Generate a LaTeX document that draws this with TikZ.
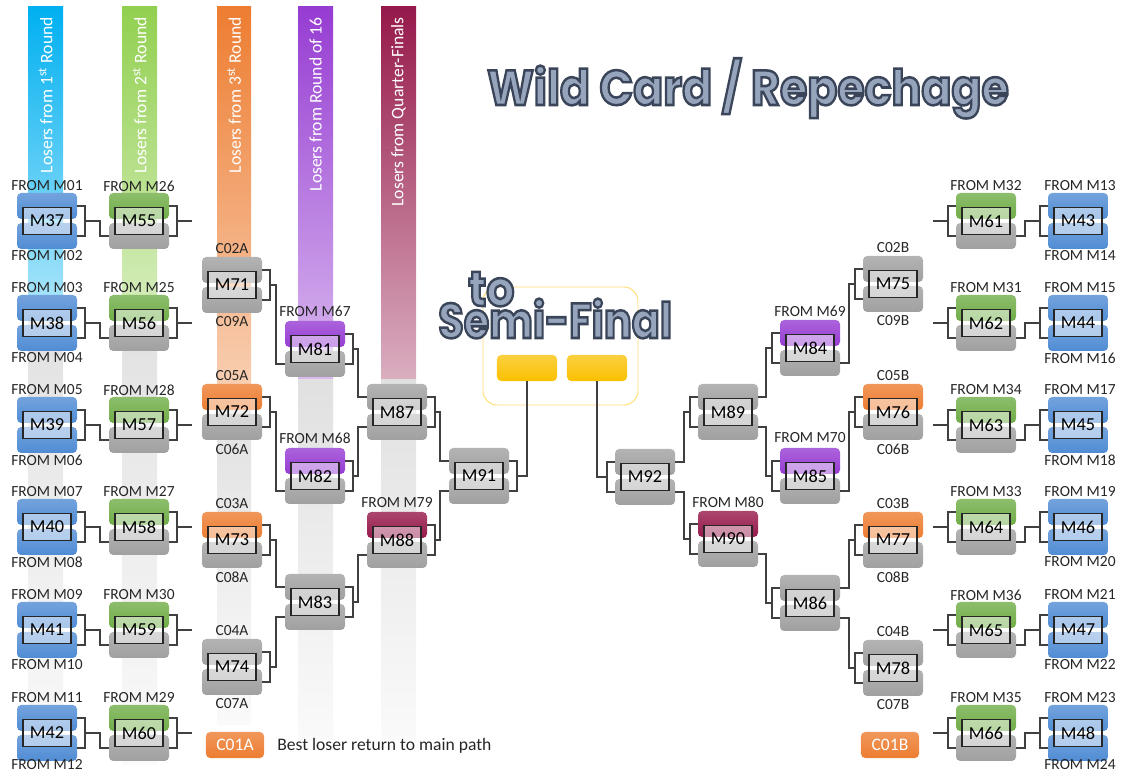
\documentclass[tikz,border=0pt]{standalone}
\usepackage{fontspec}
\setmainfont{Carlito}
\newfontfamily\titlefont{Poppins}

\definecolor{cblue}{RGB}{0,176,240}
\definecolor{cgreen}{RGB}{146,208,80}
\definecolor{corange}{RGB}{237,125,49}
\definecolor{cpurple}{RGB}{150,60,210}
\definecolor{cwine}{RGB}{150,25,75}
\definecolor{mblue}{RGB}{80,140,212}
\definecolor{mgreen}{RGB}{112,173,71}
\definecolor{mgray}{RGB}{160,160,160}
\definecolor{gold}{RGB}{250,192,0}
\definecolor{goldline}{RGB}{255,222,120}
\definecolor{tfill}{RGB}{150,165,188}

\tikzset{
	wire/.style={draw=black!75, line width=0.8pt},
	blob/.style={rounded corners=3pt, top color=#1!80!white, bottom color=#1},
	matchbox/.style={draw=black!85, line width=0.8pt, fill=white, fill opacity=0.5, text opacity=1, minimum width=1.2cm, minimum height=0.675cm, inner sep=0pt, font=\fontsize{13}{13}\selectfont},
	lbl/.style={inner sep=0pt, text=black!85, font=\fontsize{11}{11}\selectfont},
	colhead/.style={rotate=90, anchor=east, inner sep=0pt, text=white, font=\fontsize{12.5}{12.5}\selectfont},
	legbox/.style={rounded corners=3pt, top color=corange!80!white, bottom color=corange, text=white, minimum width=1.45cm, minimum height=0.65cm, inner sep=0pt, font=\fontsize{12.5}{12.5}\selectfont},
	goldbox/.style={rounded corners=3pt, top color=gold!75!white, bottom color=gold, minimum width=1.5cm, minimum height=0.65cm, inner sep=0pt},
	titletext/.style={inner sep=0pt, text=tfill, font=\titlefont\bfseries\fontsize{35}{35}\selectfont}
}

% outlined title lettering (fill + dark stroke)
\newcommand{\outl}[1]{\special{pdf:code 2 Tr 1.8 w 0.23 0.27 0.35 RG}#1\special{pdf:code 0 Tr}}

% match: name, x, y, top colour, bottom colour, side of bracket (1 right, -1 left)
\newcommand{\match}[6]{%
	\begin{scope}[shift={(#2,#3)}]
	\path[blob=#4] (-30,-28) rectangle (30,-2);
	\path[blob=#5] (-30,2) rectangle (30,28);
	\node[matchbox] (#1) at (0,0) {#1};
	\coordinate (#1-ot) at (#6*30,-15);
	\coordinate (#1-ob) at (#6*30,15);
	\coordinate (#1-it) at (#6*-30,-15);
	\coordinate (#1-ib) at (#6*-30,15);
	\coordinate (#1-out) at (#6*38,0);
	\coordinate (#1-end) at (#6*53,0);
	\draw[wire] (#1-ot) -| (#1-out) |- (#1-ob);
	\end{scope}}

\begin{document}
\begin{tikzpicture}[x=0.025cm, y=-0.025cm]
\useasboundingbox (0,0) rectangle (1121,773);

% bands
\shade[top color=cblue, bottom color=cblue!35!white] (28,7) rectangle (63,300);
\shade[top color=black!12, bottom color=black!2] (28,300) rectangle (63,765);
\shade[top color=cgreen, bottom color=cgreen!40!white] (122,7) rectangle (157,300);
\shade[top color=black!12, bottom color=black!2] (122,300) rectangle (157,765);
\shade[top color=corange, bottom color=corange!35!white] (217,7) rectangle (251,400);
\shade[top color=black!12, bottom color=black!2] (217,400) rectangle (251,725);
\shade[top color=cpurple, bottom color=cpurple!35!white] (298,7) rectangle (333,380);
\shade[top color=black!12, bottom color=black!2] (298,380) rectangle (333,740);
\shade[top color=cwine, bottom color=cwine!35!white] (381,7) rectangle (416,380);
\shade[top color=black!12, bottom color=black!2] (381,380) rectangle (416,740);

\node[colhead] (head1) at (45.5,17) {Losers from 1\textsuperscript{st} Round};
\node[colhead] (head2) at (139.5,17) {Losers from 2\textsuperscript{st} Round};
\node[colhead] (head3) at (234,17) {Losers from 3\textsuperscript{st} Round};
\node[colhead] (head4) at (315.5,17) {Losers from Round of 16};
\node[colhead] (head5) at (398.5,17) {Losers from Quarter-Finals};

% semi-final frame
\draw[goldline, line width=0.7pt, rounded corners=10pt] (483,287) rectangle (638,405);
\node[goldbox] (semiL) at (527,368) {};
\node[goldbox] (semiR) at (597,368) {};

% left half
\match{M37}{47}{221}{mblue}{mblue}{1}
\match{M38}{47}{323}{mblue}{mblue}{1}
\match{M39}{47}{425}{mblue}{mblue}{1}
\match{M40}{47}{527}{mblue}{mblue}{1}
\match{M41}{47}{630}{mblue}{mblue}{1}
\match{M42}{47}{733}{mblue}{mblue}{1}
\match{M55}{139}{221}{mgreen}{mgray}{1}
\match{M56}{139}{323}{mgreen}{mgray}{1}
\match{M57}{139}{425}{mgreen}{mgray}{1}
\match{M58}{139}{527}{mgreen}{mgray}{1}
\match{M59}{139}{630}{mgreen}{mgray}{1}
\match{M60}{139}{733}{mgreen}{mgray}{1}
\match{M71}{232}{285}{mgray}{mgray}{1}
\match{M72}{232}{412}{corange}{mgray}{1}
\match{M73}{232}{540}{corange}{mgray}{1}
\match{M74}{232}{667}{mgray}{mgray}{1}
\match{M81}{315}{349}{cpurple}{mgray}{1}
\match{M82}{315}{476}{cpurple}{mgray}{1}
\match{M83}{315}{602}{mgray}{mgray}{1}
\match{M87}{397}{412}{mgray}{mgray}{1}
\match{M88}{397}{540}{cwine}{mgray}{1}
\match{M91}{479}{476}{mgray}{mgray}{1}

% right half
\match{M92}{645}{477}{mgray}{mgray}{-1}
\match{M89}{728}{412}{mgray}{mgray}{-1}
\match{M90}{728}{539}{cwine}{mgray}{-1}
\match{M84}{810}{348}{cpurple}{mgray}{-1}
\match{M85}{810}{476}{cpurple}{mgray}{-1}
\match{M86}{810}{603}{mgray}{mgray}{-1}
\match{M75}{893}{284}{mgray}{mgray}{-1}
\match{M76}{893}{412}{corange}{mgray}{-1}
\match{M77}{893}{540}{corange}{mgray}{-1}
\match{M78}{893}{668}{mgray}{mgray}{-1}
\match{M61}{986}{221}{mgreen}{mgray}{-1}
\match{M62}{986}{323}{mgreen}{mgray}{-1}
\match{M63}{986}{425}{mgreen}{mgray}{-1}
\match{M64}{986}{527}{mgreen}{mgray}{-1}
\match{M65}{986}{630}{mgreen}{mgray}{-1}
\match{M66}{986}{733}{mgreen}{mgray}{-1}
\match{M43}{1078}{221}{mblue}{mblue}{-1}
\match{M44}{1078}{323}{mblue}{mblue}{-1}
\match{M45}{1078}{425}{mblue}{mblue}{-1}
\match{M46}{1078}{527}{mblue}{mblue}{-1}
\match{M47}{1078}{630}{mblue}{mblue}{-1}
\match{M48}{1078}{733}{mblue}{mblue}{-1}

% where the losers come from
\node[lbl] (f01) at (47,186) {FROM M01};
\node[lbl] (f02) at (47,256) {FROM M02};
\node[lbl] (f03) at (47,288) {FROM M03};
\node[lbl] (f04) at (47,358) {FROM M04};
\node[lbl] (f05) at (47,390) {FROM M05};
\node[lbl] (f06) at (47,460) {FROM M06};
\node[lbl] (f07) at (47,492) {FROM M07};
\node[lbl] (f08) at (47,562) {FROM M08};
\node[lbl] (f09) at (47,595) {FROM M09};
\node[lbl] (f10) at (47,665) {FROM M10};
\node[lbl] (f11) at (47,698) {FROM M11};
\node[lbl] (f12) at (47,765) {FROM M12};
\node[lbl] (f13) at (1080,186) {FROM M13};
\node[lbl] (f14) at (1080,256) {FROM M14};
\node[lbl] (f15) at (1080,288) {FROM M15};
\node[lbl] (f16) at (1080,358) {FROM M16};
\node[lbl] (f17) at (1080,390) {FROM M17};
\node[lbl] (f18) at (1080,460) {FROM M18};
\node[lbl] (f19) at (1080,492) {FROM M19};
\node[lbl] (f20) at (1080,562) {FROM M20};
\node[lbl] (f21) at (1080,595) {FROM M21};
\node[lbl] (f22) at (1080,665) {FROM M22};
\node[lbl] (f23) at (1080,698) {FROM M23};
\node[lbl] (f24) at (1080,765) {FROM M24};
\node[lbl] (f26) at (139,186) {FROM M26};
\node[lbl] (f25) at (139,288) {FROM M25};
\node[lbl] (f28) at (139,390) {FROM M28};
\node[lbl] (f27) at (139,492) {FROM M27};
\node[lbl] (f30) at (139,595) {FROM M30};
\node[lbl] (f29) at (139,698) {FROM M29};
\node[lbl] (f32) at (986,186) {FROM M32};
\node[lbl] (f31) at (986,288) {FROM M31};
\node[lbl] (f34) at (986,390) {FROM M34};
\node[lbl] (f33) at (986,492) {FROM M33};
\node[lbl] (f36) at (986,595) {FROM M36};
\node[lbl] (f35) at (986,698) {FROM M35};
\node[lbl] (c02a) at (232,249) {C02A};
\node[lbl] (c09a) at (232,322) {C09A};
\node[lbl] (c05a) at (232,376) {C05A};
\node[lbl] (c06a) at (232,449) {C06A};
\node[lbl] (c03a) at (232,504) {C03A};
\node[lbl] (c08a) at (232,577) {C08A};
\node[lbl] (c04a) at (232,631) {C04A};
\node[lbl] (c07a) at (232,704) {C07A};
\node[lbl] (c02b) at (893,248) {C02B};
\node[lbl] (c09b) at (893,321) {C09B};
\node[lbl] (c05b) at (893,376) {C05B};
\node[lbl] (c06b) at (893,449) {C06B};
\node[lbl] (c03b) at (893,504) {C03B};
\node[lbl] (c08b) at (893,577) {C08B};
\node[lbl] (c04b) at (893,632) {C04B};
\node[lbl] (c07b) at (893,705) {C07B};
\node[lbl] (f67) at (315,311) {FROM M67};
\node[lbl] (f68) at (315,438) {FROM M68};
\node[lbl] (f79) at (397,503) {FROM M79};
\node[lbl] (f69) at (810,311) {FROM M69};
\node[lbl] (f70) at (810,438) {FROM M70};
\node[lbl] (f80) at (728,502) {FROM M80};

% left paths
\draw[wire] (M37-out) -- ++(15,0) |- (M55-ib);
\draw[wire] (M38-out) -- ++(15,0) |- (M56-ib);
\draw[wire] (M39-out) -- ++(15,0) |- (M57-ib);
\draw[wire] (M40-out) -- ++(15,0) |- (M58-ib);
\draw[wire] (M41-out) -- ++(15,0) |- (M59-ib);
\draw[wire] (M42-out) -- ++(15,0) |- (M60-ib);
\draw[wire] (M55-out) -- (M55-end);
\draw[wire] (M56-out) -- (M56-end);
\draw[wire] (M57-out) -- (M57-end);
\draw[wire] (M58-out) -- (M58-end);
\draw[wire] (M59-out) -- (M59-end);
\draw[wire] (M60-out) -- (M60-end);
\draw[wire] (M71-out) -- ++(6,0) |- (M81-ib);
\draw[wire] (M72-out) -- ++(6,0) |- (M82-ib);
\draw[wire] (M73-out) -- ++(6,0) |- (M83-it);
\draw[wire] (M74-out) -- ++(6,0) |- (M83-ib);
\draw[wire] (M81-out) -- ++(5,0) |- (M87-it);
\draw[wire] (M82-out) -- ++(5,0) |- (M87-ib);
\draw[wire] (M83-out) -- ++(5,0) |- (M88-ib);
\draw[wire] (M87-out) -- ++(5,0) |- (M91-it);
\draw[wire] (M88-out) -- ++(5,0) |- (M91-ib);
\draw[wire] (M91-out) -| (semiL.south);

% right paths
\draw[wire] (M92-out) -| (semiR.south);
\draw[wire] (M89-out) -- ++(-6,0) |- (M92-it);
\draw[wire] (M90-out) -- ++(-6,0) |- (M92-ib);
\draw[wire] (M84-out) -- ++(-6,0) |- (M89-it);
\draw[wire] (M85-out) -- ++(-6,0) |- (M89-ib);
\draw[wire] (M86-out) -- ++(-6,0) |- (M90-ib);
\draw[wire] (M75-out) -- ++(-6,0) |- (M84-ib);
\draw[wire] (M76-out) -- ++(-6,0) |- (M85-ib);
\draw[wire] (M77-out) -- ++(-6,0) |- (M86-it);
\draw[wire] (M78-out) -- ++(-6,0) |- (M86-ib);
\draw[wire] (M61-out) -- (M61-end);
\draw[wire] (M62-out) -- (M62-end);
\draw[wire] (M63-out) -- (M63-end);
\draw[wire] (M64-out) -- (M64-end);
\draw[wire] (M65-out) -- (M65-end);
\draw[wire] (M66-out) -- (M66-end);
\draw[wire] (M43-out) -- ++(-15,0) |- (M61-ib);
\draw[wire] (M44-out) -- ++(-15,0) |- (M62-ib);
\draw[wire] (M45-out) -- ++(-15,0) |- (M63-ib);
\draw[wire] (M46-out) -- ++(-15,0) |- (M64-ib);
\draw[wire] (M47-out) -- ++(-15,0) |- (M65-ib);
\draw[wire] (M48-out) -- ++(-15,0) |- (M66-ib);

% titles
\node[titletext, anchor=base] (title) at (748,105) {\scalebox{0.9}[1]{\outl{Wild Card / Repechage}}};
\node[titletext, anchor=base west] (semito) at (468,306) {\scalebox{0.9}[1]{\outl{to}}};
\node[titletext, anchor=base west] (semifinal) at (438,338) {\scalebox{0.84}[1]{\outl{Semi-Final}}};

% legend
\node[legbox] (c01a) at (235,745) {C01A};
\node[lbl, anchor=west, font=\fontsize{12.5}{12.5}\selectfont] (bestloser) at (277,746) {Best loser return to main path};
\node[legbox] (c01b) at (890,745) {C01B};
\end{tikzpicture}
\end{document}
